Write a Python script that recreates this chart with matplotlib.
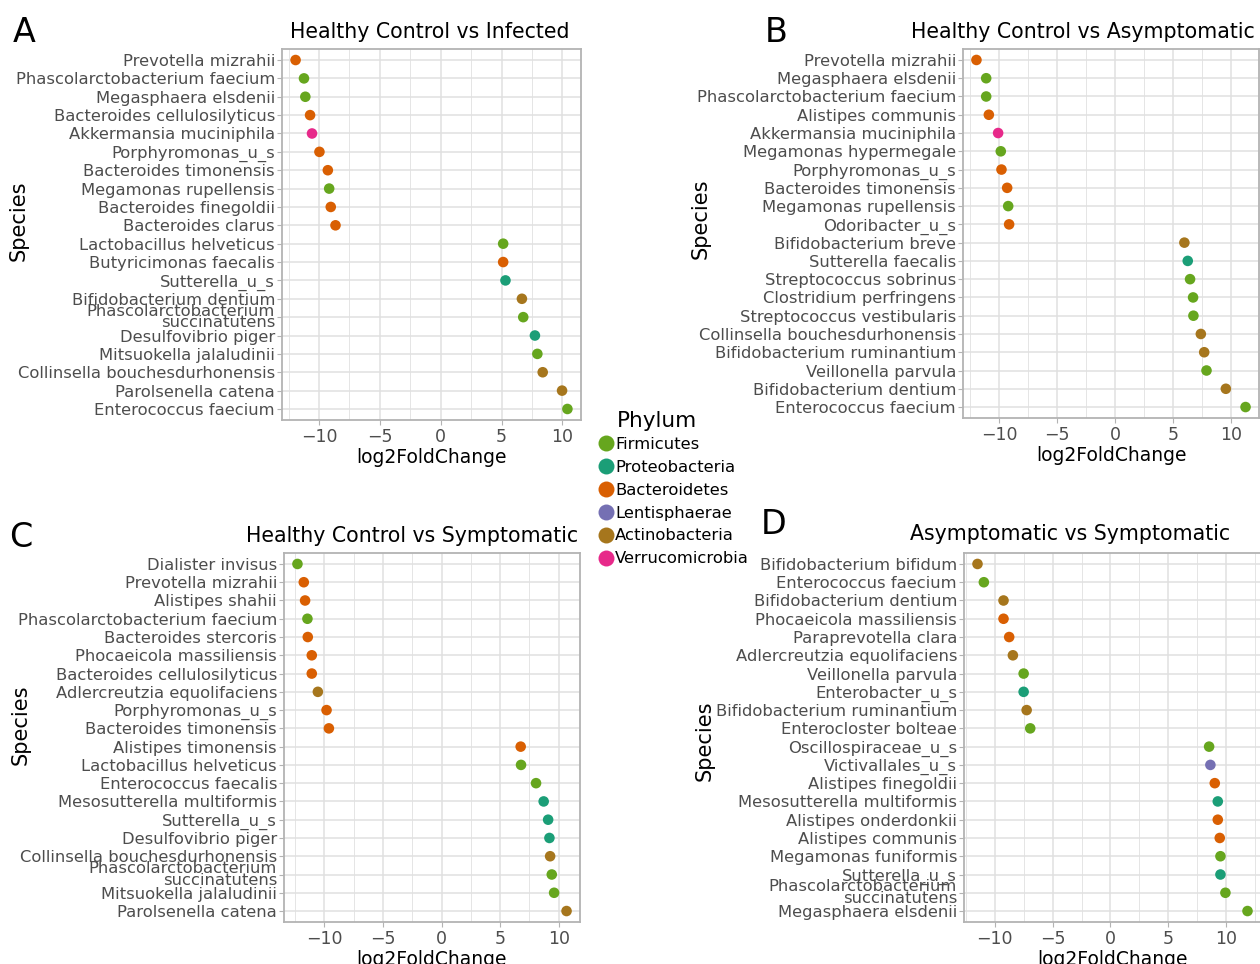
import matplotlib
matplotlib.use("Agg")
import matplotlib.pyplot as plt
from matplotlib.lines import Line2D
from matplotlib.ticker import MultipleLocator

plt.rcParams['font.family'] = ['DejaVu Sans']

# ---------------- data ----------------
phyla = ['Firmicutes', 'Proteobacteria', 'Bacteroidetes', 'Lentisphaerae',
         'Actinobacteria', 'Verrucomicrobia']
phylum_colors = ['#66A61E', '#1B9E77', '#D95F02', '#7570B3', '#A6761D', '#E7298A']

# Panel A: Healthy Control vs Infected
a_species = ['Prevotella mizrahii', 'Phascolarctobacterium faecium', 'Megasphaera elsdenii',
             'Bacteroides cellulosilyticus', 'Akkermansia muciniphila', 'Porphyromonas_u_s',
             'Bacteroides timonensis', 'Megamonas rupellensis', 'Bacteroides finegoldii',
             'Bacteroides clarus', 'Lactobacillus helveticus', 'Butyricimonas faecalis',
             'Sutterella_u_s', 'Bifidobacterium dentium',
             'Phascolarctobacterium\nsuccinatutens', 'Desulfovibrio piger',
             'Mitsuokella jalaludinii', 'Collinsella bouchesdurhonensis',
             'Parolsenella catena', 'Enterococcus faecium']
a_lfc = [-11.93, -11.24, -11.13, -10.74, -10.58, -9.97, -9.28, -9.17, -9.04, -8.65,
         5.13, 5.13, 5.32, 6.67, 6.78, 7.74, 7.94, 8.38, 9.97, 10.41]
a_phylum = ['Bacteroidetes', 'Firmicutes', 'Firmicutes', 'Bacteroidetes', 'Verrucomicrobia',
            'Bacteroidetes', 'Bacteroidetes', 'Firmicutes', 'Bacteroidetes', 'Bacteroidetes',
            'Firmicutes', 'Bacteroidetes', 'Proteobacteria', 'Actinobacteria', 'Firmicutes',
            'Proteobacteria', 'Firmicutes', 'Actinobacteria', 'Actinobacteria', 'Firmicutes']

# Panel B: Healthy Control vs Asymptomatic
b_species = ['Prevotella mizrahii', 'Megasphaera elsdenii', 'Phascolarctobacterium faecium',
             'Alistipes communis', 'Akkermansia muciniphila', 'Megamonas hypermegale',
             'Porphyromonas_u_s', 'Bacteroides timonensis', 'Megamonas rupellensis',
             'Odoribacter_u_s', 'Bifidobacterium breve', 'Sutterella faecalis',
             'Streptococcus sobrinus', 'Clostridium perfringens', 'Streptococcus vestibularis',
             'Collinsella bouchesdurhonensis', 'Bifidobacterium ruminantium',
             'Veillonella parvula', 'Bifidobacterium dentium', 'Enterococcus faecium']
b_lfc = [-11.96, -11.12, -11.12, -10.89, -10.09, -9.86, -9.80, -9.31, -9.22, -9.14,
         5.99, 6.28, 6.48, 6.74, 6.77, 7.41, 7.70, 7.90, 9.57, 11.27]
b_phylum = ['Bacteroidetes', 'Firmicutes', 'Firmicutes', 'Bacteroidetes', 'Verrucomicrobia',
            'Firmicutes', 'Bacteroidetes', 'Bacteroidetes', 'Firmicutes', 'Bacteroidetes',
            'Actinobacteria', 'Proteobacteria', 'Firmicutes', 'Firmicutes', 'Firmicutes',
            'Actinobacteria', 'Actinobacteria', 'Firmicutes', 'Actinobacteria', 'Firmicutes']

# Panel C: Healthy Control vs Symptomatic
c_species = ['Dialister invisus', 'Prevotella mizrahii', 'Alistipes shahii',
             'Phascolarctobacterium faecium', 'Bacteroides stercoris',
             'Phocaeicola massiliensis', 'Bacteroides cellulosilyticus',
             'Adlercreutzia equolifaciens', 'Porphyromonas_u_s', 'Bacteroides timonensis',
             'Alistipes timonensis', 'Lactobacillus helveticus', 'Enterococcus faecalis',
             'Mesosutterella multiformis', 'Sutterella_u_s', 'Desulfovibrio piger',
             'Collinsella bouchesdurhonensis', 'Phascolarctobacterium\nsuccinatutens',
             'Mitsuokella jalaludinii', 'Parolsenella catena']
c_lfc = [-12.28, -11.74, -11.63, -11.43, -11.40, -11.06, -11.06, -10.54, -9.80, -9.60,
         6.75, 6.78, 8.06, 8.71, 9.09, 9.20, 9.26, 9.40, 9.60, 10.66]
c_phylum = ['Firmicutes', 'Bacteroidetes', 'Bacteroidetes', 'Firmicutes', 'Bacteroidetes',
            'Bacteroidetes', 'Bacteroidetes', 'Actinobacteria', 'Bacteroidetes', 'Bacteroidetes',
            'Bacteroidetes', 'Firmicutes', 'Firmicutes', 'Proteobacteria', 'Proteobacteria',
            'Proteobacteria', 'Actinobacteria', 'Firmicutes', 'Firmicutes', 'Actinobacteria']

# Panel D: Asymptomatic vs Symptomatic
d_species = ['Bifidobacterium bifidum', 'Enterococcus faecium', 'Bifidobacterium dentium',
             'Phocaeicola massiliensis', 'Paraprevotella clara', 'Adlercreutzia equolifaciens',
             'Veillonella parvula', 'Enterobacter_u_s', 'Bifidobacterium ruminantium',
             'Enterocloster bolteae', 'Oscillospiraceae_u_s', 'Victivallales_u_s',
             'Alistipes finegoldii', 'Mesosutterella multiformis', 'Alistipes onderdonkii',
             'Alistipes communis', 'Megamonas funiformis', 'Sutterella_u_s',
             'Phascolarctobacterium\nsuccinatutens', 'Megasphaera elsdenii']
d_lfc = [-11.50, -10.95, -9.25, -9.25, -8.76, -8.44, -7.51, -7.51, -7.25, -6.94,
         8.53, 8.64, 9.02, 9.28, 9.28, 9.45, 9.51, 9.51, 9.94, 11.85]
d_phylum = ['Actinobacteria', 'Firmicutes', 'Actinobacteria', 'Bacteroidetes', 'Bacteroidetes',
            'Actinobacteria', 'Firmicutes', 'Proteobacteria', 'Actinobacteria', 'Firmicutes',
            'Firmicutes', 'Lentisphaerae', 'Bacteroidetes', 'Proteobacteria', 'Bacteroidetes',
            'Bacteroidetes', 'Firmicutes', 'Proteobacteria', 'Firmicutes', 'Firmicutes']

titles = ['Healthy Control vs Infected', 'Healthy Control vs Asymptomatic',
          'Healthy Control vs Symptomatic', 'Asymptomatic vs Symptomatic']
letters = ['A', 'B', 'C', 'D']

# ---------------- layout ----------------
W, H = 1260, 964
fig = plt.figure(figsize=(W / 100, H / 100), dpi=100)
fig.patch.set_facecolor('white')

color_of = dict(zip(phyla, phylum_colors))

def px_axes(l, t, r, b):
    return fig.add_axes([l / W, 1 - b / H, (r - l) / W, (b - t) / H])

panel_boxes = [(282, 49, 581, 420), (963, 49, 1259, 418),
               (284, 553, 580, 922), (964, 553, 1261, 922)]
title_pos = [(290, 38), (911, 38), (246, 542), (910, 540)]
letter_pos = [(13, 42), (765, 42), (9, 547), (761, 534)]
ylabel_pos = [(29, 221), (711, 219), (31, 725), (715, 741)]   # right edge x, centre y
panels = [(a_species, a_lfc, a_phylum), (b_species, b_lfc, b_phylum),
          (c_species, c_lfc, c_phylum), (d_species, d_lfc, d_phylum)]

GRID = '#e0e0e0'
BORDER = '#b3b3b3'
TICKC = '#4d4d4d'

for k, (species, lfc, phy) in enumerate(panels):
    l, t, r, b = panel_boxes[k]
    ax = px_axes(l, t, r, b)
    n = len(species)
    ypos = [n - i for i in range(n)]
    ax.scatter(lfc, ypos, c=[color_of[p] for p in phy], s=58, edgecolors='none', zorder=3)
    ax.set_ylim(0.4, n + 0.6)
    ax.margins(x=0.05)
    ax.set_yticks(ypos)
    ax.set_yticklabels(species)
    for tl in ax.get_yticklabels():
        tl.set_linespacing(0.72)
    ax.xaxis.set_major_locator(MultipleLocator(5))
    ax.xaxis.set_minor_locator(MultipleLocator(2.5))
    ax.grid(True, which='major', color=GRID, linewidth=1.1, zorder=0)
    ax.grid(True, which='minor', axis='x', color=GRID, linewidth=0.6, zorder=0)
    ax.set_axisbelow(True)
    for s in ax.spines.values():
        s.set_color(BORDER)
        s.set_linewidth(1.3)
    ax.tick_params(axis='both', which='major', length=3.5, width=0.8, color=BORDER,
                   labelcolor=TICKC, labelsize=11.8, pad=1.5)
    ax.tick_params(axis='x', which='minor', length=0)
    ax.tick_params(axis='x', labelsize=12.5, pad=2.5)
    ax.set_xlabel('log2FoldChange', fontsize=13.5, labelpad=1)
    ax.set_ylabel('Species', fontsize=15)
    lx, ly = ylabel_pos[k]
    ax.yaxis.set_label_coords((lx - l) / (r - l), (b - ly) / (b - t))
    fig.text(title_pos[k][0] / W, 1 - title_pos[k][1] / H, titles[k],
             fontsize=14.8, ha='left', va='baseline')
    fig.text(letter_pos[k][0] / W, 1 - letter_pos[k][1] / H, letters[k],
             fontsize=24, ha='left', va='baseline')

# legend
fig.text(617 / W, 1 - 427 / H, 'Phylum', fontsize=15.5, ha='left', va='baseline')
handles = [Line2D([0], [0], marker='o', linestyle='none', markersize=11.5,
                  markerfacecolor=c, markeredgecolor='none', label=p)
           for p, c in zip(phyla, phylum_colors)]
leg = fig.legend(handles=handles, loc='upper left',
                 bbox_to_anchor=(597 / W, 1 - 437 / H), frameon=False,
                 fontsize=11.8, handletextpad=0.0,
                 handlelength=1.1, labelspacing=0.48, borderaxespad=0,
                 borderpad=0)

fig.savefig('out.png', dpi=100, facecolor='white')
